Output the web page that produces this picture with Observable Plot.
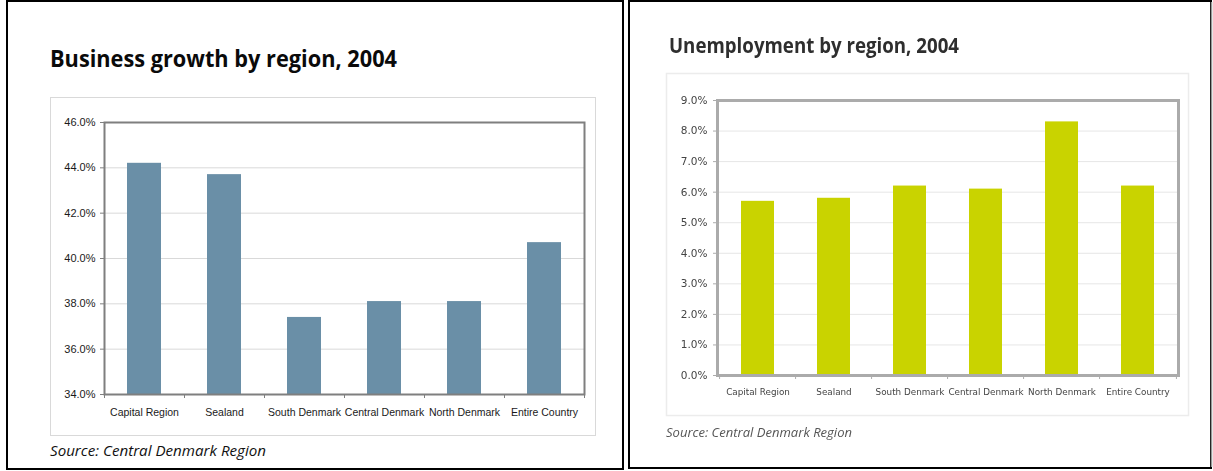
<!DOCTYPE html>
<html>
<head>
<meta charset="utf-8">
<script src="https://cdn.jsdelivr.net/npm/d3@7"></script>
<script src="https://cdn.jsdelivr.net/npm/@observablehq/plot@0.6"></script>
<style>
  html, body { margin: 0; padding: 0; background: #fff; }
  #page { position: relative; width: 1213px; height: 471px; overflow: hidden; background: #fff; }
  .abs { position: absolute; }
  .abs svg { display: block; overflow: visible; }
</style>
</head>
<body>
<div id="page"></div>
<script>
// ---- data ----
const categories = ["Capital Region", "Sealand", "South Denmark", "Central Denmark", "North Denmark", "Entire Country"];
const growthValues = [44.2, 43.7, 37.4, 38.1, 38.1, 40.7];
const unemploymentValues = [5.7, 5.8, 6.2, 6.1, 8.3, 6.2];
const growthTicks = [34, 36, 38, 40, 42, 44, 46];
const unemploymentTicks = [0, 1, 2, 3, 4, 5, 6, 7, 8, 9];
const titles = ["Business growth by region, 2004", "Unemployment by region, 2004"];
const sources = ["Source: Central Denmark Region", "Source: Central Denmark Region"];

const page = document.getElementById("page");

// ---- decorations / texts (overlay svg) ----
const deco = d3.select(page).append("svg")
  .attr("width", 1213).attr("height", 471)
  .style("position", "absolute").style("left", 0).style("top", 0);

// panel borders
deco.append("rect").attr("x", 7).attr("y", 1).attr("width", 616).attr("height", 468)
  .attr("fill", "none").attr("stroke", "#000").attr("stroke-width", 2);
deco.append("rect").attr("x", 629).attr("y", 1).attr("width", 582).attr("height", 467)
  .attr("fill", "none").attr("stroke", "#000").attr("stroke-width", 2);
deco.append("line").attr("x1", 1211.5).attr("x2", 1211.5).attr("y1", 2).attr("y2", 467)
  .attr("stroke", "#999").attr("stroke-width", 1.5);

// inner chart boxes
deco.append("rect").attr("x", 50.5).attr("y", 97.5).attr("width", 545).attr("height", 338)
  .attr("fill", "none").attr("stroke", "#d9d9d9").attr("stroke-width", 1);
deco.append("rect").attr("x", 666.5).attr("y", 73.5).attr("width", 522).attr("height", 342)
  .attr("fill", "none").attr("stroke", "#ececec").attr("stroke-width", 1.5);

function fitText(x, y, str, width, attrs) {
  const t = deco.append("text").attr("x", x).attr("y", y).text(str)
    .attr("textLength", width).attr("lengthAdjust", "spacingAndGlyphs");
  for (const k in attrs) t.attr(k, attrs[k]);
  return t;
}
fitText(50, 67, titles[0], 347, {"font-family": "Open Sans", "font-weight": 700, "font-size": 23, fill: "#0a0a0a"});
fitText(669, 53, titles[1], 290, {"font-family": "Open Sans", "font-weight": 700, "font-size": 20.5, fill: "#2e2e2e", style: "filter: blur(0.3px)"});
fitText(50, 456, sources[0], 216, {"font-family": "Open Sans", "font-style": "italic", "font-size": 15, fill: "#111"});
fitText(666, 437, sources[1], 186, {"font-family": "Open Sans", "font-style": "italic", "font-size": 12.5, fill: "#555", style: "filter: blur(0.3px)"});

// ---- charts ----
function barChart(cfg) {
  const data = categories.map((c, i) => ({category: c, value: cfg.values[i]}));
  const [ml, mr, mt, mb] = cfg.margins;
  const step = (cfg.width - ml - mr) / categories.length;
  const lo = cfg.ticks[0], hi = cfg.ticks[cfg.ticks.length - 1];
  return Plot.plot({
    width: cfg.width,
    height: cfg.height,
    marginLeft: ml, marginRight: mr, marginTop: mt, marginBottom: mb,
    style: {fontFamily: cfg.font, fontSize: cfg.fontSize + "px", color: cfg.textColor, background: "transparent", overflow: "visible"},
    x: {domain: categories, paddingInner: cfg.padding, paddingOuter: cfg.padding / 2, align: 0.5, label: null, axis: null},
    y: {domain: [lo, hi], label: null, axis: null},
    marks: [
      Plot.gridY(cfg.ticks, {stroke: cfg.gridStroke, strokeOpacity: 1, strokeWidth: 1}),
      Plot.barY(data, {x: "category", y1: lo, y2: "value", fill: cfg.fill}),
      Plot.frame({stroke: cfg.frameStroke, strokeWidth: cfg.frameWidth}),
      Plot.axisY(cfg.ticks, {anchor: "left", tickFormat: d => d.toFixed(1) + "%", tickSize: 4, tickPadding: cfg.yPad, stroke: cfg.frameStroke, fill: cfg.textColor, label: null}),
      Plot.axisX({anchor: "bottom", tickSize: 0, tickPadding: cfg.xPad, fontSize: cfg.xFontSize, fill: cfg.textColor, label: null}),
      Plot.axisX(categories, {anchor: "bottom", tickSize: 4, dx: -step / 2, tickFormat: () => "", stroke: cfg.frameStroke, label: null}),
      Plot.axisX([categories[categories.length - 1]], {anchor: "bottom", tickSize: 4, dx: step / 2, tickFormat: () => "", stroke: cfg.frameStroke, label: null})
    ]
  });
}

function place(node, left, top, extraStyle) {
  const wrap = document.createElement("div");
  wrap.className = "abs";
  wrap.style.left = left + "px";
  wrap.style.top = top + "px";
  if (extraStyle) Object.assign(wrap.style, extraStyle);
  wrap.appendChild(node);
  page.appendChild(wrap);
}

place(barChart({
  values: growthValues, ticks: growthTicks,
  width: 545, height: 338, margins: [54, 11, 25, 41],
  padding: 0.575, fill: "#6a8fa7",
  frameStroke: "#7f7f7f", frameWidth: 2, gridStroke: "#d9d9d9",
  font: "Liberation Sans, Arial, sans-serif", fontSize: 11, xFontSize: 10.5, textColor: "#1a1a1a",
  yPad: 5, xPad: 14
}), 50, 97);

place(barChart({
  values: unemploymentValues, ticks: unemploymentTicks,
  width: 522, height: 342, margins: [51, 10, 27, 40],
  padding: 0.56, fill: "#c9d300",
  frameStroke: "#ababab", frameWidth: 3, gridStroke: "#e6e6e6",
  font: "DejaVu Sans, sans-serif", fontSize: 10.5, xFontSize: 8.8, textColor: "#444",
  yPad: 6, xPad: 13
}), 666, 73, {filter: "blur(0.35px)"});
</script>
</body>
</html>
